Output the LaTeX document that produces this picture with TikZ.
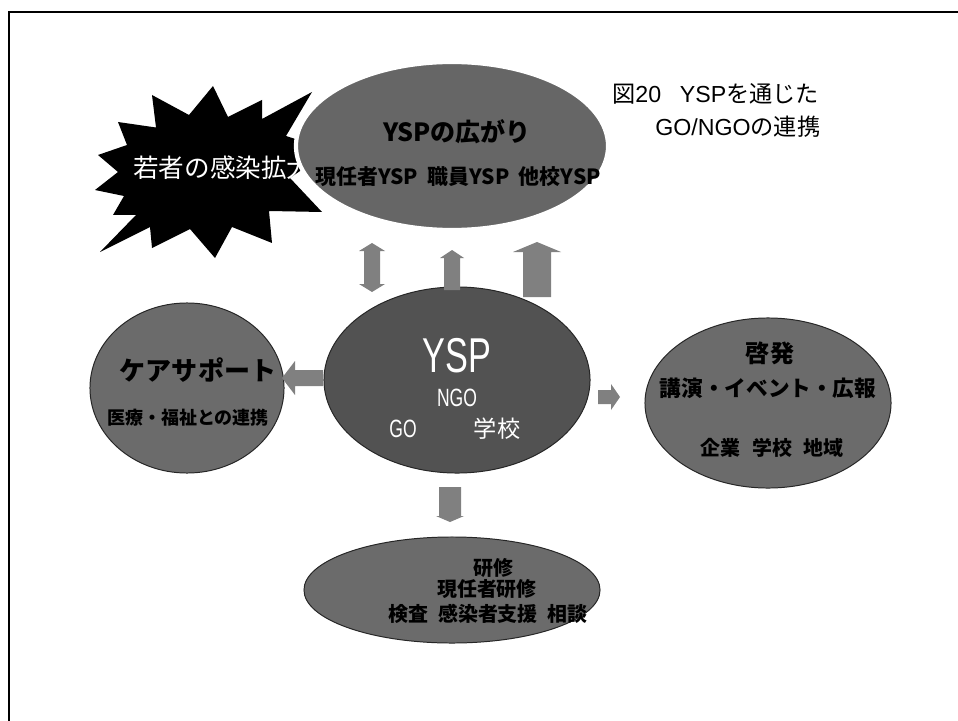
\documentclass[tikz,border=0pt]{standalone}
\usepackage{fontspec}
\setmainfont{Noto Sans CJK JP}
\newfontfamily\narrowfont[FakeStretch=0.7]{Liberation Sans}
\newfontfamily\latfont{Liberation Sans}
\usetikzlibrary{shapes.geometric}
\begin{document}
\begin{tikzpicture}[x=0.025cm, y=-0.025cm,
  blob/.style={ellipse, inner sep=0pt, fill=black!58, draw=black!85, line width=0.7pt},
  lbl/.style={anchor=base, inner sep=0pt},
  blockar/.style={fill=black!50},
  frameline/.style={line width=2pt, line cap=rect}]
% canvas
\path[fill=white] (0,0) rectangle (958,721);
\useasboundingbox (0,0) rectangle (958,721);
\coordinate (f1) at (9,721);
\coordinate (f2) at (9,12);
\coordinate (f3) at (958,12);
\draw[frameline] (f1) -- (f2) -- (f3);

% starburst
\path[fill=black] (118,122) -- (156,127.5) -- (152,95) -- (189,115) -- (213,86) -- (228,117)
  -- (262,100) -- (262,119) -- (312,92) -- (286,136) -- (330,150) -- (290,178)
  -- (322,212) -- (269,211) -- (272,243) -- (232,227) -- (215,258) -- (190,229)
  -- (152,248) -- (150,227) -- (100,252) -- (136,215) -- (113,215) -- (124,196)
  -- (95,190) -- (118,172) -- (98,155) -- (127,145) -- cycle;
\node[anchor=base west, inner sep=0pt, text=white, font=\fontsize{18.2pt}{21pt}\selectfont] (burst) at (133,177.5) {若者の感染拡大};

% ellipses
\node[blob, draw=white, line width=3pt, fill=black!60, minimum width=7.8cm, minimum height=4.2cm] (top) at (452,146) {};
\node[blob, fill=black!68, minimum width=6.65cm, minimum height=4.65cm] (ysp) at (457,380) {};
\node[blob, minimum width=4.85cm, minimum height=4.25cm] (care) at (187,388) {};
\node[blob, minimum width=6.15cm, minimum height=4.25cm] (kei) at (768,403) {};
\node[blob, minimum width=7.4cm, minimum height=2.65cm] (ken) at (452,590) {};

% block arrows
\path[blockar] (364,284) -- (364,251) -- (359,251) -- (372,243) -- (385,251) -- (380,251)
  -- (380,284) -- (385,284) -- (372,292) -- (359,284) -- cycle;
\path[blockar] (444,290) -- (444,258) -- (440,258) -- (452,250) -- (464,258) -- (460,258) -- (460,290) -- cycle;
\path[blockar] (523,297) -- (523,252) -- (513,252) -- (537,242) -- (561,252) -- (551,252) -- (551,297) -- cycle;
\path[blockar] (323,370) -- (295,370) -- (295,361) -- (282,378) -- (295,395) -- (295,386) -- (323,386) -- cycle;
\path[blockar] (598,390) -- (611,390) -- (611,384) -- (620,397) -- (611,410) -- (611,404) -- (598,404) -- cycle;
\path[blockar] (439,487) -- (439,516) -- (436,516) -- (450,522) -- (464,516) -- (461,516) -- (461,487) -- cycle;

% top ellipse text
\node[lbl, font=\fontsize{17.8pt}{20pt}\selectfont\bfseries] (t1) at (457,141.5) {YSPの広がり};
\node[lbl, font=\fontsize{14.9pt}{17pt}\selectfont\bfseries] (t2) at (458,185) {現任者YSP\hspace{0.45em}職員YSP\hspace{0.45em}他校YSP};

% center text
\node[lbl, text=white, font=\narrowfont\fontsize{34.8pt}{38pt}\selectfont] (c1) at (457,372.5) {YSP};
\node[lbl, text=white, font=\narrowfont\fontsize{17.8pt}{20pt}\selectfont] (c2) at (457,406) {NGO};
\node[lbl, text=white, font=\narrowfont\fontsize{17.8pt}{20pt}\selectfont] (c3) at (403,437) {GO};
\node[lbl, text=white, font=\fontsize{16.5pt}{19pt}\selectfont] (c4) at (497,437) {学校};

% left text
\node[lbl, font=\fontsize{18.5pt}{21pt}\selectfont\bfseries] (l1) at (198,380) {ケアサポート};
\node[lbl, font=\fontsize{12.8pt}{15pt}\selectfont\bfseries] (l2) at (188,424) {医療・福祉との連携};

% right text
\node[lbl, font=\fontsize{17.1pt}{20pt}\selectfont\bfseries] (r1) at (770,362) {啓発};
\node[lbl, font=\fontsize{15.4pt}{18pt}\selectfont\bfseries] (r2) at (768,396) {講演・イベント・広報};
\node[lbl, font=\fontsize{14.2pt}{17pt}\selectfont\bfseries] (r3) at (772,455) {企業\hspace{0.6em}学校\hspace{0.6em}地域};

% bottom text
\node[lbl, font=\fontsize{14.2pt}{17pt}\selectfont\bfseries] (b1) at (493,575) {研修};
\node[lbl, font=\fontsize{14.2pt}{17pt}\selectfont\bfseries] (b2) at (487,596) {現任者研修};
\node[lbl, font=\fontsize{14.2pt}{17pt}\selectfont\bfseries] (b3) at (488,621) {検査\hspace{0.5em}感染者支援\hspace{0.5em}相談};

% title
\node[anchor=base west, inner sep=0pt, font=\fontsize{16.5pt}{19pt}\selectfont] (ti1) at (612,103) {図{\latfont 20}\hspace{0.8em}{\latfont YSP}を通じた};
\node[anchor=base west, inner sep=0pt, font=\fontsize{16.5pt}{19pt}\selectfont] (ti2) at (655,136) {{\latfont GO/NGO}の連携};
\end{tikzpicture}
\end{document}
